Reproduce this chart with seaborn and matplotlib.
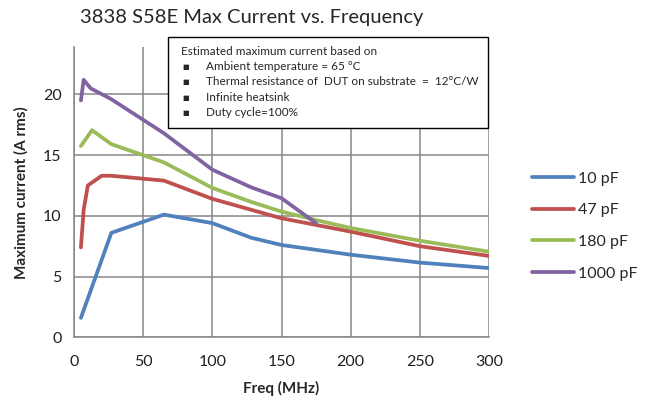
import matplotlib
matplotlib.use("Agg")
import matplotlib.pyplot as plt
import seaborn as sns
import pandas as pd

freq_10 = [5, 27, 65, 100, 128, 150, 175, 200, 250, 300]
cur_10 = [1.6, 8.6, 10.1, 9.4, 8.2, 7.6, 7.2, 6.8, 6.15, 5.7]

freq_47 = [5, 7, 10, 20, 27, 65, 100, 128, 150, 175, 200, 250, 300]
cur_47 = [7.4, 10.5, 12.5, 13.3, 13.3, 12.9, 11.4, 10.5, 9.8, 9.25, 8.7, 7.5, 6.7]

freq_180 = [5, 13, 27, 65, 100, 128, 150, 175, 200, 250, 300]
cur_180 = [15.75, 17.05, 15.9, 14.4, 12.3, 11.15, 10.35, 9.65, 9.0, 7.95, 7.05]

freq_1000 = [5, 7, 12, 27, 65, 100, 128, 150, 175]
cur_1000 = [19.5, 21.2, 20.5, 19.6, 16.8, 13.8, 12.35, 11.45, 9.4]

series_names = ["10 pF", "47 pF", "180 pF", "1000 pF"]
colors = ["#4F81BD", "#C0504D", "#9BBB59", "#8064A2"]

title = "3838 S58E Max Current vs. Frequency"
xlabel = "Freq (MHz)"
ylabel = "Maximum current (A rms)"
note_lines = [
    "Estimated maximum current based on",
    "Ambient temperature = 65 \u00b0C",
    "Thermal resistance of  DUT on substrate  =  12\u00b0C/W",
    "Infinite heatsink",
    "Duty cycle=100%",
]
x_ticks = [0, 50, 100, 150, 200, 250, 300]
y_ticks = [0, 5, 10, 15, 20]

frames = []
for name, f, c in zip(series_names, [freq_10, freq_47, freq_180, freq_1000],
                      [cur_10, cur_47, cur_180, cur_1000]):
    frames.append(pd.DataFrame({"freq": f, "current": c, "series": name}))
df = pd.concat(frames, ignore_index=True)

sns.set_style("white")
plt.rcParams["font.family"] = ["Lato", "DejaVu Sans"]

fig = plt.figure(figsize=(6.5, 4.03), dpi=100)
ax = fig.add_axes([74 / 650, 1 - 337.3 / 403, (489 - 74) / 650, (337.3 - 47) / 403])

sns.lineplot(data=df, x="freq", y="current", hue="series", hue_order=series_names,
             palette=colors, linewidth=2.7, ax=ax, legend=True, sort=False,
             estimator=None)

ax.set_xlim(0, 300)
ax.set_ylim(0, 23.9)
ax.set_xticks(x_ticks)
ax.set_yticks(y_ticks)
ax.grid(True, color="#868686", linewidth=1.1)
ax.set_axisbelow(True)
for s in ["top", "right"]:
    ax.spines[s].set_visible(False)
for s in ["left", "bottom"]:
    ax.spines[s].set_color("#868686")
    ax.spines[s].set_linewidth(1.1)
ax.tick_params(axis="both", direction="out", length=5, color="#868686",
               labelsize=11.5, labelcolor="#202020", pad=4)
ax.tick_params(axis="x", pad=8)

ax.set_xlabel(xlabel, fontsize=11, fontweight="bold", labelpad=8)
ax.set_ylabel(ylabel, fontsize=11, fontweight="bold", labelpad=10)
fig.text(252 / 650, 1 - 18 / 403, title, ha="center", va="center", fontsize=14.5)

leg = ax.legend(loc="center left", bbox_to_anchor=(1.07, 0.383), frameon=False,
                fontsize=11.5, handlelength=2.6, handletextpad=0.25, labelspacing=1.1)
for line in leg.get_lines():
    line.set_linewidth(2.7)

# annotation box
box_l, box_t, box_r, box_b = 168 / 650, 1 - 37 / 403, 488 / 650, 1 - 128 / 403
rect = plt.Rectangle((box_l, box_b), box_r - box_l, box_t - box_b, transform=fig.transFigure,
                     facecolor="white", edgecolor="black", linewidth=1.0, zorder=10)
fig.add_artist(rect)
fig.text(181 / 650, 1 - 51.7 / 403, note_lines[0], fontsize=8.5, va="center", zorder=11)
for i, t in enumerate(note_lines[1:]):
    y = 1 - (66.7 + i * 15.2) / 403
    fig.text(182 / 650, y, "\u25a0", fontsize=5, va="center", zorder=11)
    fig.text(206 / 650, y, t, fontsize=8.5, va="center", zorder=11)

fig.savefig("out.png", dpi=100)
